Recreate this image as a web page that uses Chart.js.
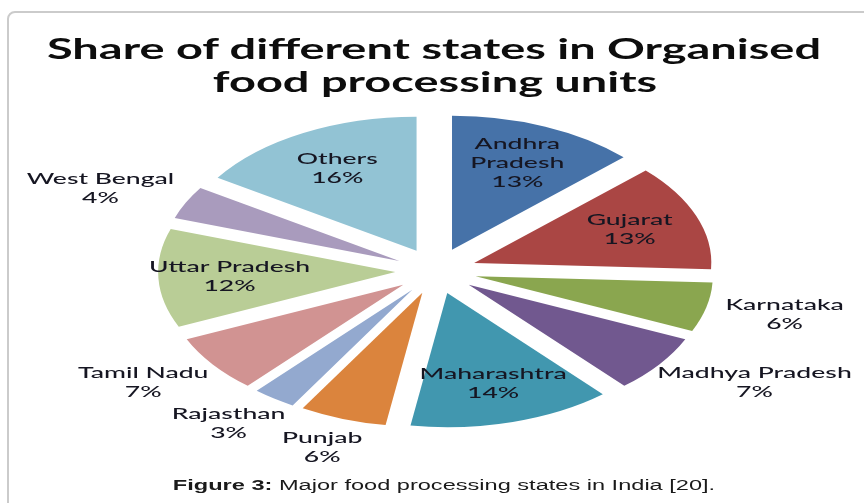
<!DOCTYPE html>
<html>
<head>
<meta charset="utf-8">
<script src="https://cdn.jsdelivr.net/npm/chart.js@4.4.1/dist/chart.umd.min.js"></script>
<style>
  html, body { margin: 0; padding: 0; background: #fff; }
  body { width: 864px; height: 503px; position: relative; overflow: hidden; }
  #frame {
    position: absolute; left: 7px; top: 11px; width: 900px; height: 520px;
    border: 2px solid #cbcbcb; border-radius: 8px; box-sizing: border-box;
  }
  #pie { position: absolute; left: 0; top: 0; }
  .line { position: absolute; white-space: nowrap; transform-origin: center; }
  .title { font: bold 28px Lato, sans-serif; line-height: 28px; color: #0d0d0d; }
  .caption { font: 14px "Liberation Sans", Arial, sans-serif; line-height: 14px; color: #1a1a1a; }
</style>
</head>
<body>
<div id="frame"></div>
<canvas id="pie" width="864" height="503"></canvas>
<div class="line title" style="left:434px; top:34px" data-w="774">Share of different states in Organised</div>
<div class="line title" style="left:435px; top:67px" data-w="444">food processing units</div>
<div class="line caption" style="left:444px; top:478px" data-w="542"><b>Figure 3:</b> Major food processing states in India [20].</div>
<script>
const categories = [["Andhra", "Pradesh"], "Gujarat", "Karnataka", "Madhya Pradesh", "Maharashtra",
    "Punjab", "Rajasthan", "Tamil Nadu", "Uttar Pradesh", "West Bengal", "Others"];
const shares = [13, 13, 6, 7, 14, 6, 3, 7, 12, 4, 16];
const sliceColors = ["#4672a8", "#aa4644", "#8aa64f", "#71588f", "#4197af", "#db843d",
    "#93a9cf", "#d19392", "#b9cd96", "#a99bbd", "#92c3d4"];

// the original picture is stretched sideways, so the pie is an ellipse
const STRETCH_X = 1.77;
const EXPLODE = 23; // px each slice is pulled out
const INSIDE_AT = 0.7; // label position inside big slices, fraction of radius
const OUTSIDE_GAP = 12;
const LINE_H = 19;

function stretch(ctx, cx, cy) {
    ctx.translate(cx, cy);
    ctx.scale(STRETCH_X, 1);
    ctx.translate(-cx, -cy);
}

// draw each arc pulled out along its middle angle (Excel style explosion)
const explode = {
    id: "explode",
    beforeDatasetsDraw(chart) {
        const ctx = chart.ctx;
        const arcs = chart.getDatasetMeta(0).data;
        ctx.save();
        stretch(ctx, arcs[0].x, arcs[0].y);
        arcs.forEach((arc) => {
            const mid = (arc.startAngle + arc.endAngle) / 2;
            ctx.save();
            ctx.translate(Math.cos(mid) * EXPLODE, Math.sin(mid) * EXPLODE);
            arc.draw(ctx);
            ctx.restore();
        });
        ctx.restore();
        return false;
    },
};

const sliceLabels = {
    id: "sliceLabels",
    afterDraw(chart) {
        const ctx = chart.ctx;
        const arcs = chart.getDatasetMeta(0).data;
        const cx = arcs[0].x;
        const cy = arcs[0].y;
        ctx.save();
        stretch(ctx, cx, cy);
        ctx.font = "500 15px Lato, sans-serif";
        ctx.fillStyle = "#161622";
        ctx.textAlign = "center";
        ctx.textBaseline = "middle";
        arcs.forEach((arc, i) => {
            const name = categories[i];
            const lines = (Array.isArray(name) ? name : [name]).concat(shares[i] + "%");
            const mid = (arc.startAngle + arc.endAngle) / 2;
            const ux = Math.cos(mid);
            const uy = Math.sin(mid);
            const r = arc.outerRadius;
            let x, y;
            if (shares[i] >= 10) {
                const d = EXPLODE + INSIDE_AT * r;
                x = cx + ux * d;
                y = cy + uy * d;
            } else {
                // outside: keep the text box clear of the slice edge
                const w = Math.max(...lines.map((t) => ctx.measureText(t).width));
                const h = lines.length * LINE_H;
                const d = EXPLODE + r + OUTSIDE_GAP;
                x = cx + ux * (d + w / 2);
                y = cy + uy * (d + h / 2);
            }
            lines.forEach((t, j) => {
                ctx.fillText(t, x, y + (j - (lines.length - 1) / 2) * LINE_H);
            });
        });
        ctx.restore();
    },
};

new Chart(document.getElementById("pie"), {
    type: "pie",
    data: {
        labels: categories,
        datasets: [{
            data: shares,
            backgroundColor: sliceColors,
            borderWidth: 0,
            radius: 134,
        }],
    },
    options: {
        responsive: false,
        animation: false,
        devicePixelRatio: 1,
        events: [],
        layout: { padding: { left: 8, top: 39 } },
        plugins: {
            legend: { display: false },
            tooltip: { enabled: false },
        },
    },
    plugins: [explode, sliceLabels],
});

// title and caption are stretched sideways like the original
document.querySelectorAll(".line").forEach((el) => {
    const s = el.dataset.w / el.offsetWidth;
    el.style.transform = `translateX(-50%) scaleX(${s})`;
});
</script>
</body>
</html>
